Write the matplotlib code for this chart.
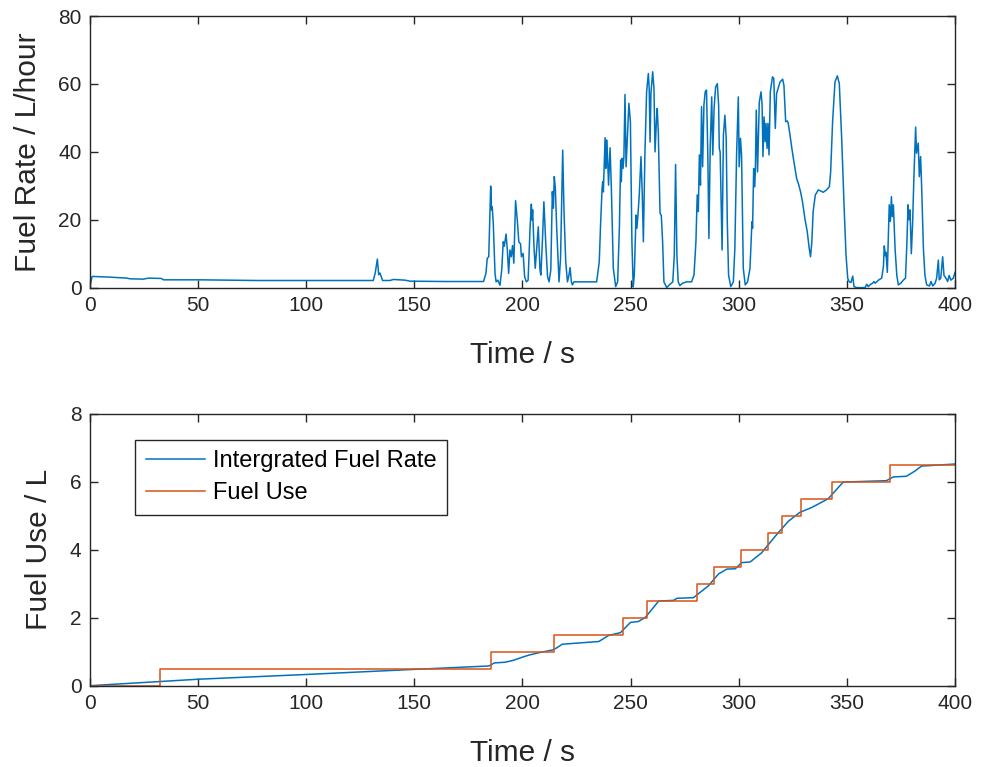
import matplotlib
matplotlib.use('Agg')
import matplotlib.pyplot as plt

# fuel rate trace (time s, rate L/hour)
rate_t = [0, 1, 9, 17, 18.5, 24.7, 27, 33, 34, 51, 77, 108, 131, 131.9, 132.9, 133.5, 134.1, 135.3,
          138.7, 140.3, 145.7, 148, 165, 182, 183.1, 183.7, 184.4, 185.3, 185.7, 186.0, 186.5, 187.3,
          187.8, 188.6, 189.6, 190.4, 191.1, 191.6, 192.4, 193.0, 193.6, 194.2, 194.8, 195.4, 196.0,
          196.8, 197.6, 198.3, 199.1, 199.5, 200.3, 201.0, 201.8, 202.6, 203.5, 204.1, 204.4, 204.7,
          205.3, 205.9, 206.5, 207.3, 208.1, 208.5, 209.3, 209.9, 210.8, 211.6, 212.3, 213.1, 213.8,
          214.3, 214.7, 215.2, 215.8, 216.9, 217.6, 218.6, 219.2, 220.0, 220.8, 221.5, 222.0, 222.6,
          223.1, 223.8, 234.3, 235.5, 236.1, 236.8, 237.1, 237.4, 237.8, 238.2, 238.5, 238.9, 239.3,
          239.8, 240.5, 241.1, 242.0, 243.1, 244.0, 244.8, 245.4, 245.7, 246.0, 246.5, 246.9, 247.4,
          247.9, 248.5, 249.2, 249.9, 250.6, 251.2, 251.7, 252.5, 252.9, 253.4, 254.0, 254.8, 255.4,
          255.9, 256.6, 257.4, 258.2, 258.6, 259.0, 259.4, 260.2, 260.8, 261.3, 261.9, 262.3, 262.8,
          263.6, 264.2, 264.8, 265.4, 266.7, 268.2, 269.5, 270.2, 270.8, 271.4, 272.0, 272.8, 274.0,
          275.9, 278.2, 279.3, 280.2, 280.8, 281.3, 281.8, 282.3, 282.8, 283.3, 283.9, 284.5, 285.1,
          285.7, 286.2, 286.8, 287.5, 288.0, 288.6, 289.3, 290.1, 290.7, 291.0, 291.4, 292.3, 292.9,
          293.6, 294.2, 294.7, 295.3, 296.3, 297.5, 298.2, 299.0, 299.8, 300.2, 300.8, 301.3, 302.1,
          303.0, 304.1, 305.2, 306.1, 306.4, 306.9, 307.4, 307.7, 308.1, 308.7, 309.5, 310.3, 310.8,
          311.2, 311.7, 312.2, 312.6, 313.1, 313.5, 314.0, 314.6, 315.6, 316.2, 316.9, 317.5, 319.1,
          320.3, 320.9, 321.7, 322.5, 322.9, 323.7, 324.5, 325.5, 326.8, 327.6, 328.6, 329.5, 330.6,
          331.7, 332.6, 333.2, 333.8, 334.4, 335.4, 336.8, 337.8, 339.1, 340.6, 341.9, 342.5, 343.4,
          344.5, 345.6, 346.5, 347.6, 348.7, 349.6, 350.4, 351.1, 351.9, 352.7, 353.3, 354.5, 358.4,
          359.2, 359.9, 361.0, 361.9, 362.5, 363.1, 364.6, 366.1, 366.9, 367.3, 367.8, 368.1, 368.7,
          369.2, 369.6, 370.1, 370.6, 371.0, 371.5, 372.3, 373.1, 373.8, 374.9, 376.1, 377.1, 377.7,
          378.3, 378.7, 379.2, 379.8, 380.4, 381.0, 381.8, 382.2, 383.0, 383.5, 384.1, 384.6, 385.4,
          386.1, 386.9, 388.2, 388.9, 389.7, 390.8, 391.5, 392.3, 392.7, 393.4, 394.3, 394.9, 395.8,
          396.6, 397.3, 398.1, 399.2, 400.0]
rate_v = [0.5, 3.3, 3.1, 2.8, 2.6, 2.5, 2.8, 2.7, 2.3, 2.3, 2.1, 2.1, 2.1, 4.3, 8.4, 3.8, 4.3, 2.1,
          2.1, 2.4, 2.2, 1.9, 1.8, 1.8, 4.2, 8.6, 9.1, 29.9, 22.9, 23.8, 18.9, 4.2,
          1.7, 2.2, 0.7, 5.2, 13.5, 12.2, 15.8, 11.1, 4.2, 11.1, 9.1, 12.4, 7.2,
          25.6, 19.9, 13.5, 12.9, 9.1, 10.1, 3.2, 1.7, 2.2, 17.5, 24.6, 19.9, 22.9,
          12.2, 5.7, 11.1, 17.9, 5.2, 3.7, 15.0, 25.3, 12.5, 3.2, 1.7, 5.2, 28.3,
          23.4, 32.7, 29.3, 17.9, 1.7, 8.6, 40.5, 22.4, 7.6, 1.7, 3.7, 5.9, 1.7,
          0.8, 1.7, 1.7, 7.6, 18.4, 29.2, 31.2, 28.2, 36.1, 44.2, 35.1, 43.5, 39.1,
          30.2, 41.2, 29.3, 5.7, 0.3, 1.7, 17.5, 37.6, 31.2, 38.1, 35.1, 38.6, 56.9,
          35.6, 44.0, 54.3, 48.9, 13.5, 0.2, 3.7, 21.4, 17.5, 21.4, 27.3, 38.6, 27.3,
          13.5, 39.1, 57.7, 63.1, 58.7, 42.9, 57.2, 63.6, 58.7, 40.0, 48.9, 52.8, 45.9,
          22.0, 21.2, 13.5, 1.7, 0.0, 1.0, 1.7, 9.6, 36.3, 9.6, 1.7, 0.6, 1.3,
          1.7, 1.7, 3.7, 13.5, 27.3, 22.4, 39.1, 30.2, 53.3, 35.6, 53.8, 57.7, 58.2,
          39.1, 14.5, 41.1, 56.2, 39.1, 52.8, 59.1, 60.1, 53.8, 41.0, 40.0, 11.1, 44.9,
          50.8, 44.0, 19.4, 3.7, 0.3, 1.7, 11.5, 39.1, 56.2, 35.6, 44.0, 39.1, 5.7,
          0.8, 1.7, 5.7, 19.4, 17.5, 35.1, 29.7, 35.1, 52.3, 34.1, 54.7, 57.7, 53.8,
          38.6, 50.3, 43.0, 48.4, 41.0, 48.4, 39.1, 57.7, 62.1, 61.6, 46.9, 57.2, 60.6,
          61.4, 59.6, 48.9, 49.1, 48.4, 45.0, 41.3, 37.1, 32.1, 30.6, 28.2, 25.2, 20.3,
          16.4, 11.5, 9.1, 13.5, 22.4, 27.3, 28.8, 28.5, 28.1, 28.8, 29.7, 34.1, 48.9,
          60.6, 62.4, 60.1, 44.0, 24.2, 9.6, 2.7, 1.7, 1.5, 3.4, 0.3, 0.0, 0.0,
          1.0, 0.3, 1.0, 1.3, 1.8, 1.3, 2.2, 2.8, 6.2, 12.3, 9.4, 10.4, 4.5,
          15.0, 24.4, 19.5, 26.8, 20.9, 24.4, 11.3, 3.6, 0.8, 1.3, 2.2, 2.8, 12.3,
          24.4, 20.0, 22.9, 10.0, 19.0, 32.7, 47.3, 39.6, 42.6, 32.7, 38.6, 29.2, 11.3,
          3.6, 0.8, 0.5, 1.8, 0.5, 1.3, 2.8, 8.1, 2.3, 2.8, 9.1, 3.6, 2.8,
          1.8, 3.6, 2.2, 2.8, 4.5]

# integrated fuel rate (L)
integ_t = [0, 50, 100, 150, 184.5, 187, 192, 196, 200, 203, 207.6, 213.8, 215.5, 218.4, 235.3,
           239.9, 245.3, 249.9, 253.7, 256.8, 263, 269.9, 271.4, 279.1, 286, 290.7, 294.5, 298.4,
           301.4, 305.3, 310.6, 316.8, 323, 328.3, 333.7, 341.4, 348.3, 368.3, 371.4, 377.5,
           381.4, 384.5, 400]
integ_v = [0, 0.19, 0.33, 0.48, 0.58, 0.67, 0.69, 0.75, 0.84, 0.90, 0.97, 1.05, 1.10, 1.22, 1.30,
           1.48, 1.56, 1.86, 1.89, 2.01, 2.49, 2.51, 2.57, 2.59, 2.94, 3.29, 3.43, 3.44,
           3.62, 3.64, 3.91, 4.39, 4.84, 5.10, 5.24, 5.50, 5.99, 6.03, 6.14, 6.16,
           6.31, 6.46, 6.52]

# fuel use counter: time of each 0.5 L step
use_t = [0, 32.3, 185.3, 214.5, 246.5, 257.6, 280.7, 288.6, 301.1, 313.7, 320.2, 328.8, 342.9,
         369.9, 400]
use_v = [0, 0.5, 1.0, 1.5, 2.0, 2.5, 3.0, 3.5, 4.0, 4.5, 5.0, 5.5, 6.0, 6.5, 6.5]

blue = '#0072BD'
orange = '#D95319'
dark = '#262626'

plt.rcParams['font.family'] = ['Liberation Sans', 'DejaVu Sans']
plt.rcParams['axes.linewidth'] = 1.0
plt.rcParams['axes.edgecolor'] = dark

fig = plt.figure(figsize=(9.81, 7.67), dpi=100)
ax1 = fig.add_axes([0.0917, 0.625, 0.8818, 0.354])
ax2 = fig.add_axes([0.0917, 0.106, 0.8818, 0.3546])

ax1.plot(rate_t, rate_v, color=blue, lw=1.1)
ax1.set_xlim(0, 400)
ax1.set_ylim(0, 80)
ax1.set_xticks(range(0, 401, 50))
ax1.set_yticks(range(0, 81, 20))
ax1.set_xlabel('Time / s', fontsize=21.5, color=dark, labelpad=19)
ax1.set_ylabel('Fuel Rate / L/hour', fontsize=21.5, color=dark, labelpad=12)

ax2.plot(integ_t, integ_v, color=blue, lw=1.1, label='Intergrated Fuel Rate')
ax2.plot(use_t, use_v, color=orange, lw=1.1, drawstyle='steps-post', label='Fuel Use')
ax2.set_xlim(0, 400)
ax2.set_ylim(0, 8)
ax2.set_xticks(range(0, 401, 50))
ax2.set_yticks(range(0, 9, 2))
ax2.set_xlabel('Time / s', fontsize=21.5, color=dark, labelpad=19)
ax2.set_ylabel('Fuel Use / L', fontsize=21.5, color=dark, labelpad=12)
leg = ax2.legend(loc='upper left', bbox_to_anchor=(0.052, 0.904), fontsize=17,
                 fancybox=False, framealpha=1, edgecolor=dark, handlelength=2.5,
                 handletextpad=0.35, borderpad=0.45, labelspacing=0.4, borderaxespad=0)
leg.get_frame().set_linewidth(1.0)

for ax in (ax1, ax2):
    ax.tick_params(direction='in', length=6, width=1, top=True, right=True,
                   labelsize=15, colors=dark, pad=6)

fig.savefig('out.png', dpi=100)
